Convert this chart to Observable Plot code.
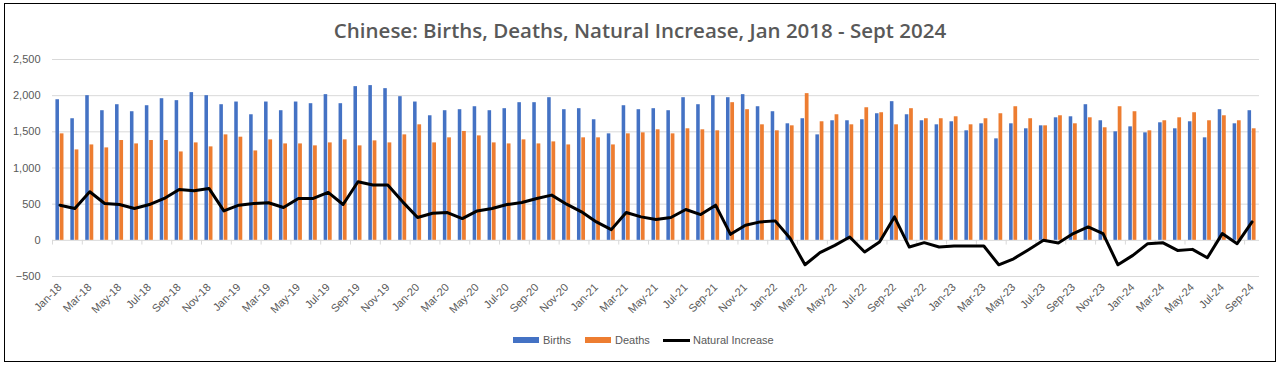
<!DOCTYPE html>
<html>
<head>
<meta charset="utf-8">
<script src="https://cdn.jsdelivr.net/npm/d3@7"></script>
<script src="https://cdn.jsdelivr.net/npm/@observablehq/plot@0.6"></script>
<style>
  html, body { margin: 0; padding: 0; background: #fff; }
  #wrap { position: relative; width: 1280px; height: 369px; overflow: hidden; background: #fff; }
  #frame { position: absolute; left: 4px; top: 3px; width: 1272px; height: 359px; border: 1.5px solid #000; box-sizing: border-box; }
  #title { position: absolute; left: 0; top: 16px; width: 1280px; text-align: center;
           font-family: "Open Sans", sans-serif; font-weight: 600; font-size: 20.5px; color: #595959; line-height: 28px; }
  #chart { position: absolute; left: 0; top: 50px; }
  .lg { position: absolute; font-family: "Liberation Sans", Arial, sans-serif; font-size: 11px; color: #595959; line-height: 14px; }
  .sw { position: absolute; height: 6px; }
</style>
</head>
<body>
<div id="wrap">
  <div id="title">Chinese: Births, Deaths, Natural Increase, Jan 2018 - Sept 2024</div>
  <div id="chart"></div>
  <div class="sw" style="left:513px; top:337px; width:26px; background:#4472C4;"></div>
  <div class="lg" style="left:543px; top:333px;">Births</div>
  <div class="sw" style="left:585px; top:337px; width:26px; background:#ED7D31;"></div>
  <div class="lg" style="left:615px; top:333px;">Deaths</div>
  <div class="sw" style="left:663px; top:339px; width:27px; height:3px; background:#000;"></div>
  <div class="lg" style="left:693px; top:333px;">Natural Increase</div>
  <div id="frame"></div>
</div>
<script>
const months = [
  "Jan-18","Feb-18","Mar-18","Apr-18","May-18","Jun-18","Jul-18","Aug-18","Sep-18","Oct-18","Nov-18","Dec-18",
  "Jan-19","Feb-19","Mar-19","Apr-19","May-19","Jun-19","Jul-19","Aug-19","Sep-19","Oct-19","Nov-19","Dec-19",
  "Jan-20","Feb-20","Mar-20","Apr-20","May-20","Jun-20","Jul-20","Aug-20","Sep-20","Oct-20","Nov-20","Dec-20",
  "Jan-21","Feb-21","Mar-21","Apr-21","May-21","Jun-21","Jul-21","Aug-21","Sep-21","Oct-21","Nov-21","Dec-21",
  "Jan-22","Feb-22","Mar-22","Apr-22","May-22","Jun-22","Jul-22","Aug-22","Sep-22","Oct-22","Nov-22","Dec-22",
  "Jan-23","Feb-23","Mar-23","Apr-23","May-23","Jun-23","Jul-23","Aug-23","Sep-23","Oct-23","Nov-23","Dec-23",
  "Jan-24","Feb-24","Mar-24","Apr-24","May-24","Jun-24","Jul-24","Aug-24","Sep-24"
];
const births = [
  1944,1681,2000,1792,1875,1778,1861,1958,1931,2042,2000,1875,
  1912,1736,1912,1792,1912,1889,2014,1889,2125,2139,2097,1986,
  1912,1722,1792,1806,1847,1792,1820,1903,1903,1972,1806,1820,
  1667,1472,1861,1806,1820,1792,1972,1875,2000,1972,2014,1847,
  1778,1611,1681,1458,1653,1653,1667,1750,1917,1736,1653,1597,
  1639,1514,1611,1403,1611,1542,1583,1694,1708,1875,1653,1500,
  1569,1486,1625,1542,1639,1417,1806,1611,1792
];
const deaths = [
  1472,1250,1319,1278,1380,1333,1380,1380,1222,1347,1292,1458,
  1426,1236,1389,1333,1333,1306,1347,1389,1306,1375,1347,1458,
  1597,1347,1417,1505,1444,1347,1333,1389,1333,1361,1319,1417,
  1417,1319,1472,1486,1528,1472,1542,1528,1514,1903,1806,1597,
  1514,1583,2028,1639,1736,1597,1833,1764,1597,1820,1681,1681,
  1708,1597,1681,1750,1847,1681,1583,1722,1611,1694,1556,1847,
  1778,1514,1653,1694,1764,1653,1722,1653,1542
];
const increase = [
  486,440,671,509,495,440,495,579,704,685,718,407,
  486,509,519,454,579,579,662,495,810,764,764,532,
  315,375,384,301,407,440,495,523,579,625,500,394,
  255,148,384,324,287,315,426,356,486,83,208,255,
  269,28,-338,-171,-69,46,-162,-23,324,-93,-32,-93,
  -79,-79,-79,-338,-255,-130,0,-37,93,185,93,-338,
  -208,-46,-32,-139,-125,-241,93,-46,255
];
const yTicks = [-500, 0, 500, 1000, 1500, 2000, 2500];
const xTickLabels = months.filter((m, i) => i % 2 === 0);

const rows = months.map((m, i) => ({month: m, births: births[i], deaths: deaths[i], increase: increase[i]}));

const W = 1280, mL = 52, mR = 21;
const step = (W - mL - mR) / 81;

const chart = Plot.plot({
  width: W, height: 270,
  marginLeft: mL, marginRight: mR, marginTop: 9, marginBottom: 44,
  style: {fontFamily: "'Liberation Sans', Arial, sans-serif", fontSize: "11px", color: "#595959", background: "transparent", overflow: "visible"},
  x: {type: "band", domain: months, paddingInner: 0.46, paddingOuter: 0.23, axis: null},
  y: {domain: [-500, 2500], axis: null},
  marks: [
    Plot.ruleY(yTicks, {stroke: "#d9d9d9", strokeWidth: 1}),
    Plot.barY(rows, {x: "month", y: "births", fill: "#4472C4", insetRight: 4.5}),
    Plot.barY(rows, {x: "month", y: "deaths", fill: "#ED7D31", insetLeft: 4.3}),
    Plot.ruleX(xTickLabels, {x: d => d, y1: 0, y2: -65, dx: -step / 2, stroke: "#d9d9d9"}),
    Plot.line(rows, {x: "month", y: "increase", stroke: "#000", strokeWidth: 3, strokeLinejoin: "round"}),
    Plot.axisY({ticks: yTicks, tickSize: 0, tickPadding: 12, tickFormat: d3.format(","), fontSize: 11, fill: "#595959", label: null}),
    Plot.axisX({ticks: xTickLabels, tickSize: 0, tickPadding: 9, tickRotate: -45, fontSize: 11, fill: "#595959", label: null})
  ]
});
document.getElementById("chart").appendChild(chart);
</script>
</body>
</html>
